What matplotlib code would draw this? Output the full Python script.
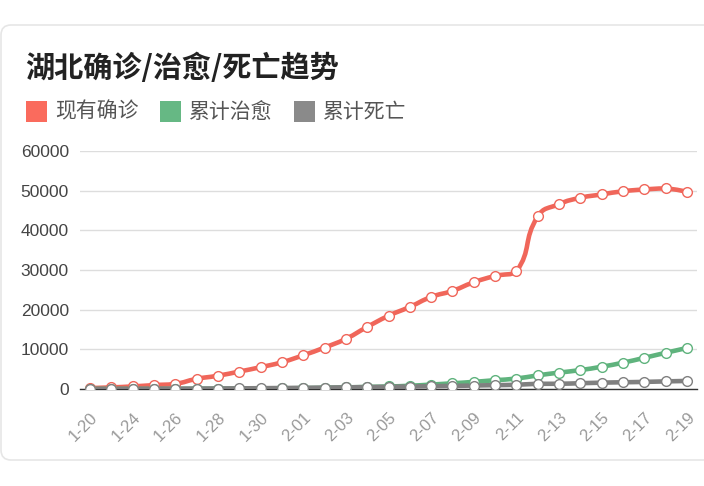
import matplotlib.pyplot as plt
import numpy as np
from matplotlib.path import Path
from matplotlib.patches import PathPatch, Rectangle, FancyBboxPatch
from matplotlib.transforms import IdentityTransform

plt.rcParams['font.family'] = ['Noto Sans CJK SC', 'DejaVu Sans']

# Datos
fechas = ['1-20', '1-22', '1-24', '1-25', '1-26', '1-27', '1-28', '1-29', '1-30', '1-31',
          '2-01', '2-02', '2-03', '2-04', '2-05', '2-06', '2-07', '2-08', '2-09', '2-10',
          '2-11', '2-12', '2-13', '2-14', '2-15', '2-16', '2-17', '2-18', '2-19']
confirmados = [240, 400, 650, 980, 1300, 2550, 3350, 4400, 5500, 6750,
               8500, 10450, 12650, 15650, 18450, 20700, 23200, 24750, 26900, 28500,
               29650, 43500, 46600, 48200, 49050, 49850, 50300, 50550, 49700]
curados = [25, 28, 31, 32, 44, 47, 80, 90, 116, 166,
           215, 295, 396, 520, 633, 817, 1113, 1439, 1795, 2222,
           2639, 3441, 4131, 4774, 5623, 6639, 7862, 9128, 10337]
muertes = [6, 17, 24, 52, 76, 100, 125, 162, 204, 249,
           294, 350, 414, 479, 549, 618, 699, 780, 871, 974,
           1068, 1310, 1318, 1457, 1596, 1696, 1789, 1921, 2029]
series = ['现有确诊', '累计治愈', '累计死亡']
colores = ['#f0665a', '#5fb37d', '#808080']
colores_leyenda = ['#fa6b5d', '#66b884', '#8a8a8a']
yticks = [0, 10000, 20000, 30000, 40000, 50000, 60000]

W, H = 704, 486
fig = plt.figure(figsize=(W / 100, H / 100), dpi=100)

# Tarjeta de fondo
card = FancyBboxPatch((1, H - 460), W + 40, 435, boxstyle='round,pad=0,rounding_size=10',
                      transform=IdentityTransform(), facecolor='white',
                      edgecolor='#e6e6e6', lw=1.2, zorder=-1)
fig.patches.append(card)

ax = fig.add_axes([80 / W, 1 - 389 / H, 617 / W, 238 / H], zorder=2)
ax.set_facecolor('none')
x = np.arange(len(fechas))
ax.set_xlim(-0.47, len(fechas) - 1 + 0.47)
ax.set_ylim(0, 60000)


def curva_suave(ax, xs, ys, smooth=0.5):
    # curva tipo echarts calculada en píxeles
    P = ax.transData.transform(np.column_stack([xs, ys]))
    n = len(P)
    cin = P.copy()
    cout = P.copy()
    for i in range(1, n - 1):
        prev, cur, nxt = P[i - 1], P[i], P[i + 1]
        v = (nxt - prev) * smooth
        l0 = np.hypot(*(cur - prev))
        l1 = np.hypot(*(nxt - cur))
        r = l1 / (l0 + l1) if l0 + l1 > 0 else 0.5
        a = cur - v * (1 - r)
        b = cur + v * r
        cin[i] = np.clip(a, np.minimum(prev, cur), np.maximum(prev, cur))
        cout[i] = np.clip(b, np.minimum(nxt, cur), np.maximum(nxt, cur))
    verts = [P[0]]
    codes = [Path.MOVETO]
    for i in range(n - 1):
        verts += [cout[i], cin[i + 1], P[i + 1]]
        codes += [Path.CURVE4] * 3
    verts = ax.transData.inverted().transform(np.array(verts))
    return Path(verts, codes)


for vals, col in zip([confirmados, curados, muertes], colores):
    ax.add_patch(PathPatch(curva_suave(ax, x, vals), fill=False, edgecolor=col,
                           lw=3.3, capstyle='round', joinstyle='round', zorder=3))
for vals, col in zip([confirmados, curados, muertes], colores):
    ax.plot(x, vals, 'o', ms=7, mfc='white', mec=col, mew=1, zorder=5)

# Ejes
for s in ['top', 'right', 'left']:
    ax.spines[s].set_visible(False)
ax.spines['bottom'].set_color('#333333')
ax.spines['bottom'].set_linewidth(1)
ax.set_yticks(yticks)
ax.set_yticklabels([str(v) for v in yticks], family=['Liberation Sans', 'DejaVu Sans'])
ax.tick_params(axis='y', length=0, pad=8, labelsize=12.5, labelcolor='#444444')
ax.grid(axis='y', color='#dddddd', lw=1)
ax.set_axisbelow(True)
ax.set_xticks(x[::2])
ax.set_xticklabels(fechas[::2], rotation=45, ha='right', va='top', rotation_mode='anchor',
                   family=['Liberation Sans', 'DejaVu Sans'])
ax.tick_params(axis='x', length=0, pad=15, labelsize=12, labelcolor='#999999')

# Título y leyenda
fig.text(25 / W, 1 - 68 / H, '湖北确诊/治愈/死亡趋势', fontsize=21, fontweight='bold',
         color='#222222', va='center', ha='left')
for i, (nombre, col) in enumerate(zip(series, colores_leyenda)):
    x0 = [26, 160, 294][i]
    fig.patches.append(Rectangle((x0, H - 122), 21, 21, transform=IdentityTransform(),
                                 facecolor=col, edgecolor='none'))
    fig.text((x0 + 29) / W, 1 - 111.5 / H, nombre, fontsize=15, color='#555555',
             va='center', ha='left')

fig.savefig('out.png', dpi=100)
